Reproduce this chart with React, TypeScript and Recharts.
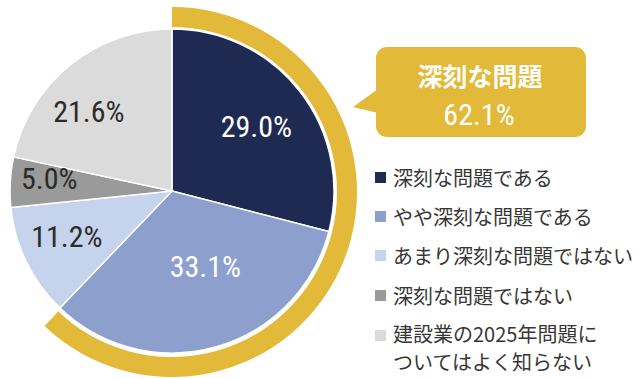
import { PieChart, Pie, Cell } from "recharts";

const categories = [
  "深刻な問題である",
  "やや深刻な問題である",
  "あまり深刻な問題ではない",
  "深刻な問題ではない",
  "建設業の2025年問題についてはよく知らない",
];
const legendLines = [
  ["深刻な問題である"],
  ["やや深刻な問題である"],
  ["あまり深刻な問題ではない"],
  ["深刻な問題ではない"],
  ["建設業の2025年問題に", "ついてはよく知らない"],
];
const shares = [29.0, 33.1, 11.2, 5.0, 21.6];
const calloutTitle = "深刻な問題";
const calloutValue = 62.1;
const highlightShares = [calloutValue, 100 - calloutValue];

const COLORS = ["#1f2a52", "#8d9fcd", "#c5d3ec", "#9a9a9a", "#dcdbdb"];
const LABEL_COLORS = ["#ffffff", "#ffffff", "#2b2b2b", "#2b2b2b", "#2b2b2b"];
const YELLOW = "#e3b93a";
const NARROW = "'Liberation Sans Narrow', 'Arial Narrow', 'Roboto Condensed', sans-serif";
const JP = "'Noto Sans CJK JP', 'Noto Sans', sans-serif";

// label radius + angle nudge (deg) per slice
const LABEL_POS = [
  { r: 104, da: -2 },
  { r: 86, da: 7 },
  { r: 116, da: -1 },
  { r: 123, da: -1 },
  { r: 112, da: 9 },
];

const pieData = categories.map((name, i) => ({ name, value: shares[i] }));
const ringData = highlightShares.map((value, i) => ({ name: i === 0 ? calloutTitle : "other", value }));

const RADIAN = Math.PI / 180;

const renderLabel = (props: any) => {
  const { cx, cy, midAngle, index, value } = props;
  const pos = LABEL_POS[index];
  const a = (midAngle + pos.da) * RADIAN;
  const x = cx + pos.r * Math.cos(-a);
  const y = cy + pos.r * Math.sin(-a) - 4;
  return (
    <text
      x={x}
      y={y}
      fill={LABEL_COLORS[index]}
      textAnchor="middle"
      dominantBaseline="central"
      style={{ fontFamily: NARROW, fontSize: 30 }}
    >
      {`${value.toFixed(1)}%`}
    </text>
  );
};

export default function App() {
  return (
    <div style={{ position: "relative", width: 640, height: 379, background: "#fff" }}>
      <style>{`body{margin:0}`}</style>
      <PieChart width={640} height={379} style={{ position: "absolute", left: 0, top: 0 }}>
        <Pie
          data={ringData}
          dataKey="value"
          cx={167}
          cy={187}
          innerRadius={165}
          outerRadius={185}
          startAngle={90}
          endAngle={-270}
          stroke="none"
          isAnimationActive={false}
        >
          <Cell fill={YELLOW} />
          <Cell fill="transparent" />
        </Pie>
        <Pie
          data={pieData}
          dataKey="value"
          cx={167}
          cy={186}
          outerRadius={162}
          startAngle={90}
          endAngle={-270}
          stroke="#ffffff"
          strokeWidth={1.5}
          label={renderLabel}
          labelLine={false}
          isAnimationActive={false}
        >
          {pieData.map((d, i) => (
            <Cell key={d.name} fill={COLORS[i]} />
          ))}
        </Pie>
      </PieChart>

      <svg width={640} height={379} style={{ position: "absolute", left: 0, top: 0, pointerEvents: "none" }}>
        <rect x={376} y={47} width={210} height={90} rx={11} fill={YELLOW} />
        <path d="M378 89 L353 107 L378 113 Z" fill={YELLOW} />
        <text x={480} y={75} textAnchor="middle" dominantBaseline="central" fill="#fff"
          style={{ fontFamily: JP, fontSize: 25, fontWeight: 700 }}>
          {calloutTitle}
        </text>
        <text x={479} y={114} textAnchor="middle" dominantBaseline="central" fill="#fff"
          style={{ fontFamily: NARROW, fontSize: 30 }}>
          {`${calloutValue.toFixed(1)}%`}
        </text>
      </svg>

      <div style={{ position: "absolute", left: 375, top: 165, fontFamily: JP, fontSize: 20, color: "#363636" }}>
        {legendLines.map((lines, i) => {
          const multi = lines.length > 1;
          return (
            <div key={i} style={{ display: "flex", alignItems: "flex-start", height: 39.2 }}>
              <span style={{ width: 11, height: 11, background: COLORS[i], marginTop: multi ? 8 : 7, marginRight: 7, flexShrink: 0 }} />
              <div style={{ lineHeight: multi ? "28px" : "25px", marginTop: multi ? -2 : 0, whiteSpace: "nowrap" }}>
                {lines.map((l, j) => (
                  <span key={l}>
                    {j > 0 && <br />}
                    {l}
                  </span>
                ))}
              </div>
            </div>
          );
        })}
      </div>
    </div>
  );
}
